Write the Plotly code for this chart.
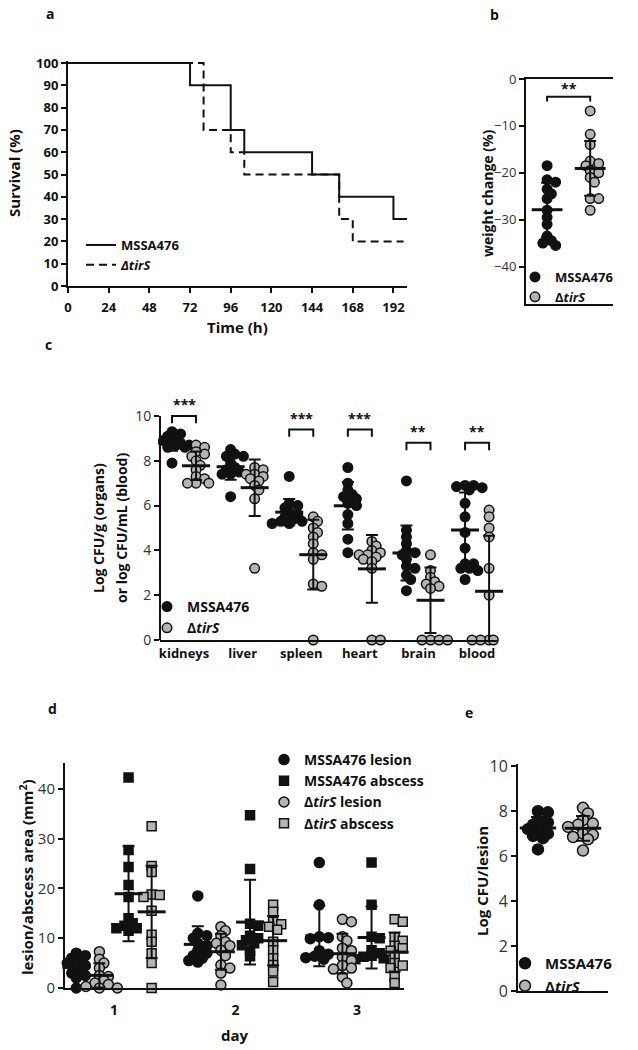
import numpy as np
import plotly.graph_objects as go

# ---------------- data ----------------
# a: survival (Kaplan-Meier steps)
surv_time_mssa = [0, 72, 96, 104, 144, 160, 192, 200]
surv_pct_mssa = [100, 90, 70, 60, 50, 40, 30, 30]
surv_time_tirs = [0, 80, 96, 104, 160, 168, 198]
surv_pct_tirs = [100, 70, 60, 50, 30, 20, 20]
surv_xticks = [0, 24, 48, 72, 96, 120, 144, 168, 192]

# b: weight change (%)
wt_mssa = [-18.5, -21.5, -22.0, -23.5, -24.5, -25.5, -28.0, -29.5, -31.0, -33.5, -34.5, -35.0, -35.5]
wt_tirs = [-6.8, -11.8, -14.0, -17.5, -18.0, -18.5, -19.5, -20.0, -21.0, -22.0, -25.5, -25.5, -28.0]

# c: organ burden
organs = ["kidneys", "liver", "spleen", "heart", "brain", "blood"]
cfu_mssa = [
    [9.3, 9.2, 9.1, 9.0, 8.9, 8.8, 8.8, 8.7, 8.7, 8.7, 8.6, 8.6, 7.9],
    [8.5, 8.3, 8.2, 8.2, 7.9, 7.7, 7.6, 7.5, 7.4, 7.4, 6.4],
    [7.3, 6.1, 6.0, 5.9, 5.7, 5.6, 5.5, 5.4, 5.3, 5.3, 5.2, 5.2],
    [7.7, 7.0, 6.7, 6.5, 6.4, 6.3, 6.1, 6.0, 5.6, 5.2, 4.5, 3.9],
    [7.1, 4.9, 4.6, 4.3, 4.0, 3.9, 3.8, 3.6, 3.3, 3.2, 2.9, 2.7, 2.2],
    [6.9, 6.9, 6.85, 6.8, 6.7, 6.1, 5.5, 4.8, 4.1, 3.4, 3.4, 3.2, 3.2, 3.1, 2.7],
]
cfu_tirs = [
    [8.7, 8.6, 8.4, 8.3, 8.2, 8.0, 7.8, 7.6, 7.3, 7.2, 7.0, 7.0, 7.0],
    [7.7, 7.6, 7.4, 7.4, 7.3, 7.2, 7.1, 6.9, 6.7, 6.3, 3.2],
    [5.5, 5.3, 5.0, 4.8, 4.6, 4.3, 3.9, 3.8, 3.6, 2.5, 2.4, 0.0],
    [4.4, 4.2, 4.0, 3.9, 3.8, 3.8, 3.7, 3.6, 3.5, 3.2, 0.0, 0.0],
    [3.8, 3.1, 2.8, 2.6, 2.5, 2.4, 2.3, 0.0, 0.0, 0.0, 0.0],
    [5.8, 5.5, 5.0, 4.6, 3.2, 2.0, 0.0, 0.0, 0.0, 0.0, 0.0, 0.0],
]
sig_organ = [0, 2, 3, 4, 5]
sig_label = ["***", "***", "***", "**", "**"]
sig_height = [10.0, 9.4, 9.4, 8.8, 8.8]

# d: lesion / abscess area (mm2) per day
days = [1, 2, 3]
lesion_mssa = [
    [7.0, 6.5, 6.0, 5.5, 5.0, 4.5, 4.5, 4.0, 3.5, 3.0, 2.5, 2.0, 0.0],
    [18.5, 11.0, 10.5, 10.0, 9.0, 8.5, 7.5, 7.0, 6.5, 6.0, 5.5, 5.2],
    [25.2, 16.7, 10.3, 10.1, 9.9, 7.5, 6.8, 6.4, 6.1, 5.8],
]
abscess_mssa = [
    [42.3, 27.7, 24.3, 20.7, 18.3, 14.0, 13.0, 12.5, 12.0, 12.0, 11.5],
    [34.7, 23.9, 12.9, 12.5, 10.5, 10.0, 9.6, 9.0, 8.6, 7.5, 6.4],
    [25.2, 16.7, 10.3, 10.0, 7.6, 7.0, 6.5, 6.3, 6.0, 5.8],
]
lesion_tirs = [
    [7.3, 5.8, 5.0, 4.0, 2.5, 2.3, 1.5, 1.0, 0.7, 0.3, 0.0, 0.0],
    [12.3, 11.5, 10.5, 9.3, 9.0, 8.5, 7.6, 6.5, 4.6, 4.0, 3.0, 0.6],
    [13.8, 13.3, 10.3, 9.5, 8.0, 7.5, 6.2, 5.5, 4.5, 4.0, 3.8, 2.2, 1.0],
]
abscess_tirs = [
    [32.5, 24.5, 23.3, 18.8, 18.7, 18.3, 15.5, 10.7, 9.3, 7.0, 5.0, 0.0],
    [16.7, 15.3, 13.3, 12.8, 12.3, 11.7, 9.3, 7.6, 6.0, 4.6, 3.3, 1.2],
    [13.8, 13.3, 10.2, 9.5, 8.5, 8.0, 7.5, 6.3, 5.0, 4.5, 4.0, 2.2, 1.0],
]

# e: CFU per lesion
lcfu_mssa = [8.0, 7.95, 7.6, 7.5, 7.4, 7.3, 7.2, 7.1, 7.0, 6.9, 6.8, 6.3]
lcfu_tirs = [8.15, 7.9, 7.6, 7.45, 7.4, 7.3, 7.0, 6.95, 6.85, 6.75, 6.25]

# ---------------- layout geometry ----------------
W, H = 638, 1050
FONT = "Open Sans"
BLK = "#111111"
GRY = "#b4b4b4"
TXT = "#333333"

def dom_x(p):
    return [p[0] / W, p[1] / W]

def dom_y(p):
    return [1 - p[1] / H, 1 - p[0] / H]

A_X, A_Y, A_XR, A_YR = (68, 407), (60.8, 286), [0, 200], [0, 101]
B_X, B_Y, B_XR, B_YR = (526, 613), (79, 304), [0.51, 2.53], [-48, 0]
C_X, C_Y, C_XR, C_YR = (160, 497), (400.3, 640), [-0.41, 5.34], [0, 10.7]
D_X, D_Y, D_XR, D_YR = (65, 404), (763, 988), [0.597, 3.387], [0, 45.2]
E_X, E_Y, E_XR, E_YR = (518, 608), (764, 991), [0.556, 2.556], [0, 10.1]

def ppu(px, rng):
    return (px[1] - px[0]) / (rng[1] - rng[0])

def swarm(values, py, px, d, gap=0.6, stepf=0.45, kmax=4):
    vals = np.asarray(values, dtype=float)
    order = np.argsort(-vals, kind="stable")
    placed = []
    offs = np.zeros(len(vals))
    step = d * stepf
    cands = [0]
    for k in range(1, kmax + 1):
        cands += [k, -k]
    for i in order:
        y = vals[i] * py
        best, bestd = 0.0, -1.0
        for k in cands:
            x = k * step
            md = min([np.hypot(x - qx, y - qy) for qy, qx in placed] or [1e9])
            if md >= d * gap:
                best = x
                break
            if md > bestd:
                best, bestd = x, md
        placed.append((y, best))
        offs[i] = best / px
    return offs

def mean_sd(v):
    v = np.asarray(v, dtype=float)
    return float(v.mean()), float(v.std(ddof=1))

fig = go.Figure()

def pts(xs, ys, color, name, xa, ya, legend, size, symbol="circle", show=True):
    return go.Scatter(
        x=xs, y=ys, mode="markers", name=name, xaxis=xa, yaxis=ya, legend=legend,
        showlegend=show, cliponaxis=False,
        marker=dict(color=color, size=size, symbol=symbol, line=dict(color=BLK, width=1.5)),
    )

def bars(xs, means, sds, xa, ya, w=22, cap=6):
    return go.Scatter(
        x=xs, y=means, mode="markers", xaxis=xa, yaxis=ya, showlegend=False, cliponaxis=False,
        marker=dict(symbol="line-ew", size=w, line=dict(color=BLK, width=3)),
        error_y=dict(type="data", array=sds, color=BLK, thickness=2, width=cap),
    )

# ---- panel a ----
fig.add_trace(go.Scatter(x=surv_time_mssa, y=surv_pct_mssa, mode="lines", line_shape="hv",
                         line=dict(color=BLK, width=2), name="MSSA476", xaxis="x", yaxis="y",
                         legend="legend"))
fig.add_trace(go.Scatter(x=surv_time_tirs, y=surv_pct_tirs, mode="lines", line_shape="hv",
                         line=dict(color=BLK, width=2, dash="8px,5px"), name="<i>\u0394tirS</i>",
                         xaxis="x", yaxis="y", legend="legend"))

# ---- panel b ----
pyb, pxb = ppu(B_Y, B_YR), ppu(B_X, B_XR)
xb1 = 1 + swarm(wt_mssa, pyb, pxb, 9.5)
xb2 = 2 + swarm(wt_tirs, pyb, pxb, 9.5)
fig.add_trace(pts(xb1, wt_mssa, BLK, "MSSA476", "x2", "y2", "legend2", 9.5))
fig.add_trace(pts(xb2, wt_tirs, GRY, "\u0394<i>tirS</i>", "x2", "y2", "legend2", 9.5))
mb = [mean_sd(wt_mssa), mean_sd(wt_tirs)]
fig.add_trace(bars([1, 2], [m for m, s in mb], [s for m, s in mb], "x2", "y2"))
fig.add_trace(go.Scatter(x=[1, 1, 2, 2], y=[-4.8, -3.8, -3.8, -4.8], mode="lines",
                         line=dict(color=BLK, width=2), xaxis="x2", yaxis="y2", showlegend=False))

# ---- panel c ----
pyc, pxc = ppu(C_Y, C_YR), ppu(C_X, C_XR)
GOFF = 0.205
xc1, yc1, xc2, yc2 = [], [], [], []
for i in range(len(organs)):
    xc1 += list(i - GOFF + swarm(cfu_mssa[i], pyc, pxc, 9.5)); yc1 += cfu_mssa[i]
    xc2 += list(i + GOFF + swarm(cfu_tirs[i], pyc, pxc, 9.5)); yc2 += cfu_tirs[i]
fig.add_trace(pts(xc1, yc1, BLK, "MSSA476", "x3", "y3", "legend3", 9.5))
fig.add_trace(pts(xc2, yc2, GRY, "\u0394<i>tirS</i>", "x3", "y3", "legend3", 9.5))
bx, bm, bs = [], [], []
for i in range(len(organs)):
    for g, off in ((cfu_mssa[i], -GOFF), (cfu_tirs[i], GOFF)):
        m, s = mean_sd(g)
        bx.append(i + off); bm.append(m); bs.append(s)
fig.add_trace(bars(bx, bm, bs, "x3", "y3", w=20, cap=6))
for o, h in zip(sig_organ, sig_height):
    fig.add_trace(go.Scatter(x=[o - GOFF, o - GOFF, o + GOFF, o + GOFF], y=[h - 0.33, h, h, h - 0.33],
                             mode="lines", line=dict(color=BLK, width=2), xaxis="x3", yaxis="y3",
                             showlegend=False))

# ---- panel d ----
pyd, pxd = ppu(D_Y, D_YR), ppu(D_X, D_XR)
series_d = [
    (lesion_mssa, -0.31, BLK, "circle", 10, "MSSA476 lesion"),
    (abscess_mssa, 0.12, BLK, "square", 9, "MSSA476 abscess"),
    (lesion_tirs, -0.12, GRY, "circle", 10, "\u0394<i>tirS</i> lesion"),
    (abscess_tirs, 0.31, GRY, "square", 9, "\u0394<i>tirS</i> abscess"),
]
dbx, dbm, dbs = [], [], []
for data, off, col, sym, sz, name in series_d:
    xs, ys = [], []
    for di, dv in zip(days, data):
        xs += list(di + off + swarm(dv, pyd, pxd, sz)); ys += dv
        m, s = mean_sd(dv)
        dbx.append(di + off); dbm.append(m); dbs.append(s)
    fig.add_trace(pts(xs, ys, col, name, "x4", "y4", "legend4", sz, symbol=sym))
fig.add_trace(bars(dbx, dbm, dbs, "x4", "y4", w=20, cap=6))

# ---- panel e ----
pye, pxe = ppu(E_Y, E_YR), ppu(E_X, E_XR)
fig.add_trace(pts(1 + swarm(lcfu_mssa, pye, pxe, 11), lcfu_mssa, BLK, "MSSA476", "x5", "y5", "legend5", 11))
fig.add_trace(pts(2 + swarm(lcfu_tirs, pye, pxe, 11), lcfu_tirs, GRY, "\u0394<i>tirS</i>", "x5", "y5", "legend5", 11))
me = [mean_sd(lcfu_mssa), mean_sd(lcfu_tirs)]
fig.add_trace(bars([1, 2], [m for m, s in me], [s for m, s in me], "x5", "y5", w=26, cap=7))

# ---------------- axes ----------------
def axis(**kw):
    base = dict(showgrid=False, zeroline=False, showline=True, linecolor=BLK, linewidth=2,
                ticks="outside", ticklen=5, tickwidth=2, tickcolor=BLK, fixedrange=True,
                automargin=False)
    base.update(kw)
    return base

bold_tick = dict(family=FONT, size=13, color=BLK, weight="bold")

fig.update_layout(
    width=W, height=H, margin=dict(l=0, r=0, t=0, b=0, autoexpand=False),
    paper_bgcolor="white", plot_bgcolor="rgba(0,0,0,0)",
    font=dict(family=FONT, color=BLK),
    xaxis=axis(domain=dom_x(A_X), range=A_XR, anchor="y", tickvals=surv_xticks,
               tickfont=bold_tick, ticklabelstandoff=3),
    yaxis=axis(domain=dom_y(A_Y), range=A_YR, anchor="x", tickvals=list(range(0, 101, 10)),
               tickfont=bold_tick),
    xaxis2=axis(domain=dom_x(B_X), range=B_XR, anchor="y2", showticklabels=False, ticks="",
                mirror=True),
    yaxis2=axis(domain=dom_y(B_Y), range=B_YR, anchor="x2", tickvals=[0, -10, -20, -30, -40],
                tickfont=dict(family=FONT, size=13, color=TXT)),
    xaxis3=axis(domain=dom_x(C_X), range=C_XR, anchor="y3", tickvals=list(range(len(organs))),
                ticktext=organs, ticks="", tickfont=bold_tick),
    yaxis3=axis(domain=dom_y(C_Y), range=C_YR, anchor="x3", tickvals=[0, 2, 4, 6, 8, 10],
                showline=False, tickfont=dict(family=FONT, size=14, color=TXT)),
    xaxis4=axis(domain=dom_x(D_X), range=D_XR, anchor="y4", tickvals=days,
                ticklen=8, tickcolor="rgba(0,0,0,0)", tickfont=dict(family=FONT, size=14, color=BLK, weight="bold")),
    yaxis4=axis(domain=dom_y(D_Y), range=D_YR, anchor="x4", tickvals=[0, 10, 20, 30, 40],
                tickfont=dict(family=FONT, size=15, color=TXT)),
    xaxis5=axis(domain=dom_x(E_X), range=E_XR, anchor="y5", showticklabels=False, ticks=""),
    yaxis5=axis(domain=dom_y(E_Y), range=E_YR, anchor="x5", tickvals=[0, 2, 4, 6, 8, 10],
                tickfont=dict(family=FONT, size=16, color=TXT)),
)

# y axis line for c, only up to 10
fig.add_shape(type="line", xref="x3 domain", yref="y3", x0=0, x1=0, y0=0, y1=10,
              line=dict(color=BLK, width=2))

def leg(xp, ytop, size=13):
    return dict(x=xp / W, y=1 - ytop / H, xanchor="left", yanchor="top", bgcolor="rgba(0,0,0,0)",
                borderwidth=0, tracegroupgap=0, itemclick=False, itemdoubleclick=False,
                font=dict(family=FONT, size=size, color=BLK, weight="bold"))

fig.update_layout(
    legend=leg(81, 230),
    legend2=leg(515, 262),
    legend3=leg(147, 591, 14),
    legend4=leg(264, 744, 14),
    legend5=leg(505, 947, 15),
)

# ---------------- annotations ----------------
def ann(text, x, y, size=14, angle=0, weight="bold", color=BLK, xanchor="center"):
    fig.add_annotation(text=text, x=x / W, y=1 - y / H, xref="paper", yref="paper", showarrow=False,
                       textangle=angle, xanchor=xanchor, yanchor="middle",
                       font=dict(family=FONT, size=size, color=color, weight=weight))

for lab, x, y in [("a", 50, 13), ("b", 494, 15), ("c", 48, 345), ("d", 52, 708), ("e", 469, 712)]:
    ann(lab, x, y, size=14)

ann("Survival (%)", 14, 173, size=15, angle=-90)
ann("Time (h)", 237, 327, size=15)
ann("weight change (%)", 487, 193, size=14, angle=-90)
ann("Log CFU/g (organs)", 98, 528, size=14, angle=-90)
ann("or log CFU/mL (blood)", 121, 528, size=14, angle=-90)
ann("lesion/abscess area (mm<sup>2</sup>)", 26, 877, size=15, angle=-90)
ann("day", 235, 1035, size=15)
ann("Log CFU/lesion", 482, 881, size=15, angle=-90)

# significance stars
fig.add_annotation(text="**", x=1.5, y=-2.0, xref="x2", yref="y2", showarrow=False,
                   font=dict(family=FONT, size=14, color=BLK, weight="bold"))
for o, h, lab in zip(sig_organ, sig_height, sig_label):
    fig.add_annotation(text=lab, x=o, y=h + 0.5, xref="x3", yref="y3", showarrow=False,
                       font=dict(family=FONT, size=14, color=BLK, weight="bold"))

fig.write_html("out.html", config={"displayModeBar": False},
               post_script="document.body.style.margin='0';document.body.style.overflow='hidden';")
